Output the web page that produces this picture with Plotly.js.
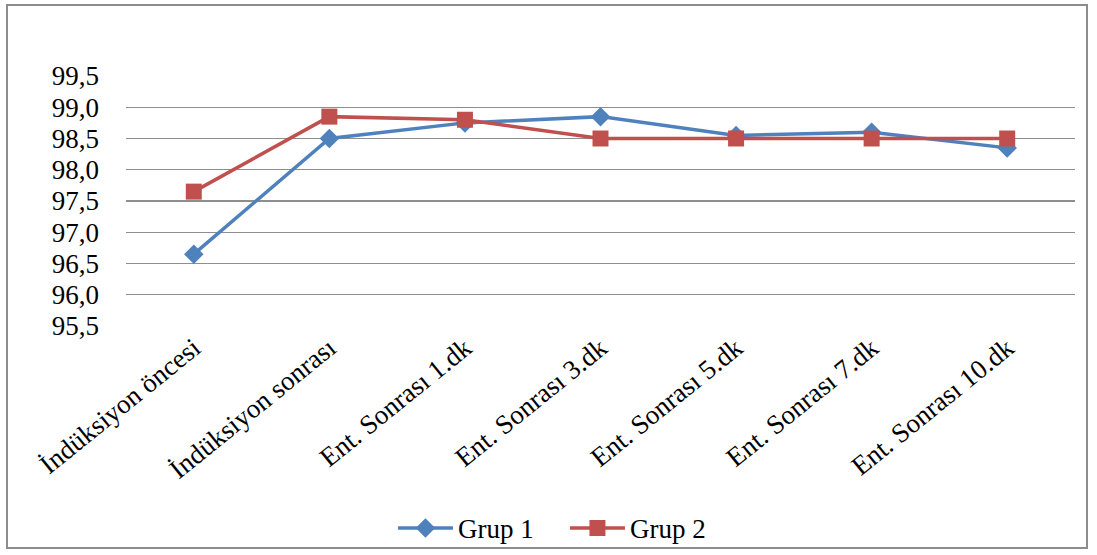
<!DOCTYPE html>
<html>
<head>
<meta charset="utf-8">
<script src="https://cdn.plot.ly/plotly-3.0.1.min.js"></script>
<style>
html,body{margin:0;padding:0;background:#fff;}
#wrap{position:relative;width:1097px;height:555px;}
#frame{position:absolute;left:6px;top:4px;width:1082px;height:545px;border:2px solid #8c8c8c;box-sizing:border-box;pointer-events:none;z-index:5;}
#chart{position:absolute;left:0;top:0;width:1097px;height:555px;}
</style>
</head>
<body>
<div id="wrap"><div id="chart"></div><div id="frame"></div></div>
<script>
const categories = ["İndüksiyon öncesi","İndüksiyon sonrası","Ent. Sonrası 1.dk","Ent. Sonrası 3.dk","Ent. Sonrası 5.dk","Ent. Sonrası 7.dk","Ent. Sonrası 10.dk"];
const grup1 = [96.65, 98.5, 98.75, 98.85, 98.55, 98.6, 98.35];
const grup2 = [97.65, 98.85, 98.8, 98.5, 98.5, 98.5, 98.5];
const yTicks = [95.5, 96.0, 96.5, 97.0, 97.5, 98.0, 98.5, 99.0, 99.5];

const serifFamily = "Liberation Serif";
const traces = [
  {x: categories, y: grup1, name: "Grup 1", type: "scatter", mode: "lines+markers",
   line: {color: "#4F81BD", width: 3.5},
   marker: {symbol: "diamond", size: 15, color: "#4F81BD"}},
  {x: categories, y: grup2, name: "Grup 2", type: "scatter", mode: "lines+markers",
   line: {color: "#C0504D", width: 3.5},
   marker: {symbol: "square", size: 16, color: "#C0504D"}}
];
const layout = {
  width: 1097, height: 555,
  margin: {l: 126, r: 22, t: 76, b: 229},
  paper_bgcolor: "#fff", plot_bgcolor: "#fff",
  separators: ",.",
  font: {family: serifFamily, color: "#000", size: 22},
  showlegend: true,
  legend: {orientation: "h", x: 0.515, xanchor: "center", xref: "container",
           y: 0.048, yanchor: "middle", yref: "container", entrywidth: 102,
           font: {family: serifFamily, size: 27, color: "#000"}, itemwidth: 55},
  xaxis: {type: "category", range: [-0.5, 6.5], tickangle: -39,
          showgrid: false, zeroline: false, showline: false, ticks: "",
          tickfont: {family: serifFamily, size: 27, color: "#000"}},
  yaxis: {range: [95.5, 99.5], tickvals: yTicks, tickformat: ".1f",
          showgrid: true, gridcolor: "#8e8e8e", gridwidth: 1.2,
          zeroline: false, showline: false, ticks: "", ticklabelstandoff: 26,
          tickfont: {family: serifFamily, size: 27, color: "#000"}}
};
Plotly.newPlot("chart", traces, layout, {displayModeBar: false, staticPlot: true});
</script>
</body>
</html>
